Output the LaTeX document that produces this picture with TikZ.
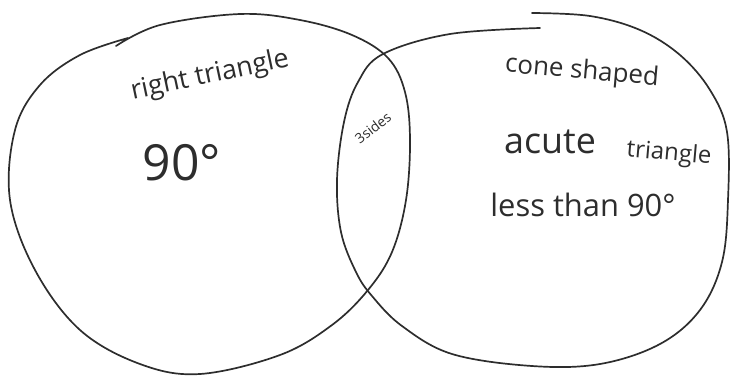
\documentclass[tikz,border=0pt]{standalone}
\usepackage{fontspec}
\setmainfont{Open Sans}
\definecolor{pencil}{RGB}{45,45,45}
\tikzset{
  ring/.style={draw=pencil,line width=1.7bp,line cap=round,line join=round},
  scrawl/.style={text=pencil,inner sep=0pt,font=\fontsize{#1}{#1}\selectfont},
  scrawl/.default=24,
}
\begin{document}
\begin{tikzpicture}[x=1bp,y=-1bp]
  \useasboundingbox (0,0) rectangle (730,377);
  % left set
  \draw[ring] plot[smooth,tension=0.6] coordinates {(116,46) (160,25) (240,14) (300,20) (352,35) (388,58)
    (405,92) (410,140) (406,200) (392,252) (368,290) (332,325) (280,355) (200,374) (140,364) (80,330)
    (35,270) (10,200) (15,130) (40,85) (80,55) (128,38)};
  % right set
  \draw[ring] plot[smooth,tension=0.6] coordinates {(540,28) (450,34) (383,54) (358,82) (344,122) (337,180)
    (341,232) (356,272) (372,296) (402,326) (452,354) (532,366) (600,364) (660,344) (700,310) (722,262)
    (728,200) (727,132) (710,90) (680,55) (640,30) (590,16) (532,13)};
  % labels
  \node[scrawl=27,rotate=12] (rt) at (210,76) {right triangle};
  \node[scrawl=50] (ninety) at (182,163) {90°};
  \node[scrawl=14,rotate=38] (three) at (373,128) {3sides};
  \node[scrawl=26,rotate=-5] (cone) at (582,72) {cone shaped};
  \node[scrawl=36] (acute) at (550,142) {acute};
  \node[scrawl=24,rotate=-5] (tri) at (669,154) {triangle};
  \node[scrawl=31] (less) at (583,205) {less than 90°};
\end{tikzpicture}
\end{document}
